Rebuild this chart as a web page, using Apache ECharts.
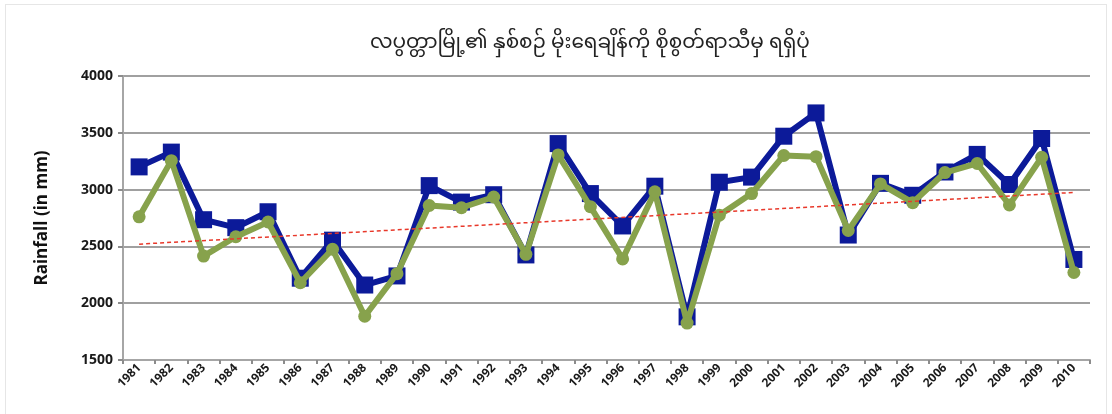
<!DOCTYPE html>
<html>
<head>
<meta charset="utf-8">
<script src="https://cdn.jsdelivr.net/npm/echarts@6/dist/echarts.min.js"></script>
<style>
html,body{margin:0;padding:0;background:#fff;}
#frame{position:absolute;left:5px;top:4px;width:1102px;height:420px;border:1px solid #e6e6e6;box-sizing:border-box;}
#c{position:absolute;left:0;top:0;width:1112px;height:414px;}
</style>
</head>
<body>
<div id="frame"></div>
<div id="c"></div>
<script>
const titleText = 'လပွတ္တာမြို့၏ နှစ်စဉ် မိုးရေချိန်ကို စိုစွတ်ရာသီမှ ရရှိပုံ';
const yAxisName = 'Rainfall (in mm)';
const years = ['1981','1982','1983','1984','1985','1986','1987','1988','1989','1990',
  '1991','1992','1993','1994','1995','1996','1997','1998','1999','2000',
  '2001','2002','2003','2004','2005','2006','2007','2008','2009','2010'];
const totalRain = [3200,3330,2735,2665,2805,2220,2555,2160,2240,3035,
  2890,2955,2425,3405,2965,2680,3030,1880,3065,3110,
  3470,3675,2600,3055,2950,3155,3310,3045,3450,2385];
const wetSeasonRain = [2760,3255,2415,2585,2715,2180,2475,1885,2260,2860,
  2840,2935,2430,3305,2850,2390,2980,1825,2775,2965,
  3300,3290,2640,3050,2885,3150,3230,2865,3285,2270];
const trendEnds = [2520, 2975];
const yTicks = {min:1500, max:4000, interval:500};

const chart = echarts.init(document.getElementById('c'));
chart.setOption({
  animation:false,
  title:{text:titleText,left:365,top:31,
    textStyle:{fontSize:20,fontWeight:'normal',color:'#222',fontFamily:'"Noto Sans Myanmar","Myanmar Text","Padauk",sans-serif'}},
  grid:{left:123,right:22,top:76,bottom:54},
  xAxis:{type:'category',data:years,boundaryGap:true,
    axisLine:{lineStyle:{color:'#a6a6a6',width:2}},
    axisTick:{show:true,alignWithLabel:false,length:4,lineStyle:{color:'#8c8c8c',width:2}},
    axisLabel:{rotate:45,interval:0,fontSize:12,fontWeight:'bold',color:'#1a1a1a',margin:6,fontFamily:'"Open Sans", sans-serif'}},
  yAxis:{type:'value',min:yTicks.min,max:yTicks.max,interval:yTicks.interval,
    name:yAxisName,nameLocation:'middle',nameGap:72,
    nameTextStyle:{fontSize:17,fontWeight:'bold',color:'#111',fontFamily:'"Open Sans", sans-serif'},
    axisLine:{show:true,lineStyle:{color:'#a6a6a6',width:2}},
    axisTick:{show:true,length:5,lineStyle:{color:'#8c8c8c',width:2}},
    axisLabel:{fontSize:14,fontWeight:'bold',color:'#1a1a1a',margin:10,formatter:v=>String(v),fontFamily:'"Open Sans", sans-serif'},
    splitLine:{lineStyle:{color:'#a0a0a0',width:2}}},
  series:[
    {name:'Total',type:'line',data:totalRain,symbol:'rect',symbolSize:17,
      lineStyle:{color:'#0c1a99',width:6},itemStyle:{color:'#0c1a99'},z:2,
      markLine:{silent:true,symbol:'none',label:{show:false},
        lineStyle:{color:'#e8382a',type:[4,3],width:1.5},
        data:[[{coord:[years[0],trendEnds[0]]},{coord:[years[years.length-1],trendEnds[1]]}]]}},
    {name:'Wet season',type:'line',data:wetSeasonRain,symbol:'circle',symbolSize:13,
      lineStyle:{color:'#87a24c',width:6},itemStyle:{color:'#87a24c'},z:3}
  ]
});
</script>
</body>
</html>
